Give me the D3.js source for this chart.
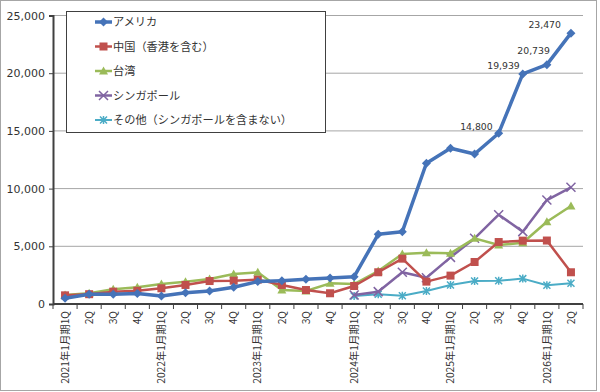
<!DOCTYPE html>
<html>
<head>
<meta charset="utf-8">
<title>地域別売上推移</title>
<script src="https://d3js.org/d3.v7.min.js"></script>
<style>
  body { margin: 0; background: #fff; }
  svg text { font-family: "DejaVu Sans", Verdana, sans-serif; fill: #333; }
  svg text.jp { font-family: "Noto Sans CJK JP", sans-serif; }
</style>
</head>
<body>
<div id="chart"></div>
<script>
// quarters, 2021年1月期1Q .. 2026年1月期2Q
const quarters = [
  "2021年1月期1Q", "2Q", "3Q", "4Q",
  "2022年1月期1Q", "2Q", "3Q", "4Q",
  "2023年1月期1Q", "2Q", "3Q", "4Q",
  "2024年1月期1Q", "2Q", "3Q", "4Q",
  "2025年1月期1Q", "2Q", "3Q", "4Q",
  "2026年1月期1Q", "2Q"
];
const seriesNames = ["アメリカ", "中国（香港を含む）", "台湾", "シンガポール", "その他（シンガポールを含まない）"];
const usa =       [500, 850, 850, 900, 700, 980, 1130, 1450, 1940, 2020, 2140, 2250, 2370, 6040, 6270, 12200, 13500, 13000, 14800, 19939, 20739, 23470];
const china =     [750, 850, 1070, 1150, 1360, 1650, 1990, 2020, 2110, 1650, 1210, 930, 1560, 2750, 3930, 1940, 2460, 3640, 5370, 5490, 5500, 2750];
const taiwan =    [780, 925, 1270, 1450, 1730, 1935, 2170, 2600, 2750, 1210, 1130, 1790, 1730, 2860, 4330, 4450, 4390, 5690, 5110, 5310, 7130, 8490];
const singapore = [null, null, null, null, null, null, null, null, null, null, null, null, 780, 1070, 2750, 2280, 4040, 5690, 7740, 6270, 9010, 10110];
const others =    [null, null, null, null, null, null, null, null, null, null, null, null, 690, 840, 720, 1130, 1650, 2000, 2020, 2200, 1620, 1790];
const yTicks = [0, 5000, 10000, 15000, 20000, 25000];
const labelIdx = [18, 19, 20, 21]; // data labels on アメリカ

const width = 600, height = 392;
const svg = d3.select("#chart").append("svg")
  .attr("width", width).attr("height", height);

// outer frame
svg.append("rect").attr("x", 0.5).attr("y", 0.5).attr("width", 596).attr("height", 390)
  .attr("fill", "#fff").attr("stroke", "#a6a6a6");

const x = d3.scaleBand().domain(d3.range(quarters.length)).range([53, 583]);
const y = d3.scaleLinear().domain([0, 25000]).range([304, 15.5]);
const cx = i => x(i) + x.bandwidth() / 2;

// grid
svg.append("g").selectAll("line").data(yTicks.slice(1)).join("line")
  .attr("x1", 53).attr("x2", 583)
  .attr("y1", d => y(d)).attr("y2", d => y(d))
  .attr("stroke", "#a6a6a6").attr("stroke-width", 1);

// y axis
const yAxis = svg.append("g").attr("transform", "translate(53,0)")
  .call(d3.axisLeft(y).tickValues(yTicks).tickSize(4).tickPadding(4).tickFormat(d3.format(",")));
yAxis.select(".domain").attr("stroke", "#404040").attr("stroke-width", 2);
yAxis.selectAll(".tick line").attr("stroke", "#404040");
yAxis.selectAll("text").attr("font-size", 11).attr("fill", "#333")
  .style("font-family", "'DejaVu Sans', Verdana, sans-serif");

// x axis
const xAxis = svg.append("g").attr("transform", "translate(0,304)");
xAxis.append("line").attr("x1", 53).attr("x2", 583).attr("stroke", "#404040").attr("stroke-width", 2);
xAxis.selectAll(".xt").data(d3.range(quarters.length + 1)).join("line")
  .attr("x1", i => 53 + i * x.bandwidth()).attr("x2", i => 53 + i * x.bandwidth())
  .attr("y1", 0).attr("y2", 5).attr("stroke", "#404040");
xAxis.selectAll("text").data(quarters).join("text")
  .attr("class", "jp")
  .attr("transform", (d, i) => `translate(${cx(i) + 3.7},7) rotate(-90)`)
  .attr("text-anchor", "end")
  .attr("font-size", 10.3)
  .text(d => d);

// series
const markers = {
  diamond: (g, c) => g.append("path").attr("d", "M0,-4.5L4.5,0L0,4.5L-4.5,0Z").attr("fill", c),
  square: (g, c) => g.append("rect").attr("x", -4).attr("y", -4).attr("width", 8).attr("height", 8).attr("fill", c),
  triangle: (g, c) => g.append("path").attr("d", "M0,-4.5L4.5,3.5L-4.5,3.5Z").attr("fill", c),
  cross: (g, c) => g.append("path").attr("d", "M-4.5,-4.5L4.5,4.5M-4.5,4.5L4.5,-4.5").attr("stroke", c).attr("stroke-width", 1.5).attr("fill", "none"),
  star: (g, c) => g.append("path").attr("d", "M-3.5,-3.5L3.5,3.5M-3.5,3.5L3.5,-3.5M0,-4L0,4").attr("stroke", c).attr("stroke-width", 1.5).attr("fill", "none")
};
const series = [
  { name: seriesNames[0], values: usa, color: "#4573b8", w: 3.5, m: "diamond" },
  { name: seriesNames[1], values: china, color: "#c0504d", w: 2.5, m: "square" },
  { name: seriesNames[2], values: taiwan, color: "#9bbb59", w: 2.5, m: "triangle" },
  { name: seriesNames[3], values: singapore, color: "#8064a2", w: 2.5, m: "cross" },
  { name: seriesNames[4], values: others, color: "#4bacc6", w: 2, m: "star" }
];

const line = d3.line().defined(d => d != null).x((d, i) => cx(i)).y(d => y(d));

// draw from back to front so アメリカ sits on top
series.slice().reverse().forEach(s => {
  const g = svg.append("g");
  g.append("path").datum(s.values).attr("d", line)
    .attr("fill", "none").attr("stroke", s.color).attr("stroke-width", s.w)
    .attr("stroke-linejoin", "round");
  s.values.forEach((v, i) => {
    if (v == null) return;
    markers[s.m](g.append("g").attr("transform", `translate(${cx(i)},${y(v)})`), s.color);
  });
});

// data labels
const labelOff = { 18: [-6, -3.5], 19: [-3, -4.5], 20: [3, -10.5], 21: [-10, -5] };
svg.append("g").selectAll("text").data(labelIdx).join("text")
  .attr("x", i => cx(i) + labelOff[i][0])
  .attr("y", i => y(usa[i]) + labelOff[i][1])
  .attr("text-anchor", "end")
  .attr("font-size", 9.3)
  .text(i => d3.format(",")(usa[i]));

// legend
const lg = svg.append("g");
lg.append("rect").attr("x", 66.5).attr("y", 11.5).attr("width", 259).attr("height", 121)
  .attr("fill", "#fff").attr("stroke", "#404040");
series.forEach((s, k) => {
  const ly = 22 + k * 24.5;
  lg.append("line").attr("x1", 95).attr("x2", 112).attr("y1", ly).attr("y2", ly)
    .attr("stroke", s.color).attr("stroke-width", s.w);
  markers[s.m](lg.append("g").attr("transform", `translate(103.5,${ly})`), s.color);
  lg.append("text").attr("class", "jp").attr("x", 113).attr("y", ly + 4)
    .attr("font-size", 11.2).text(s.name);
});
</script>
</body>
</html>
